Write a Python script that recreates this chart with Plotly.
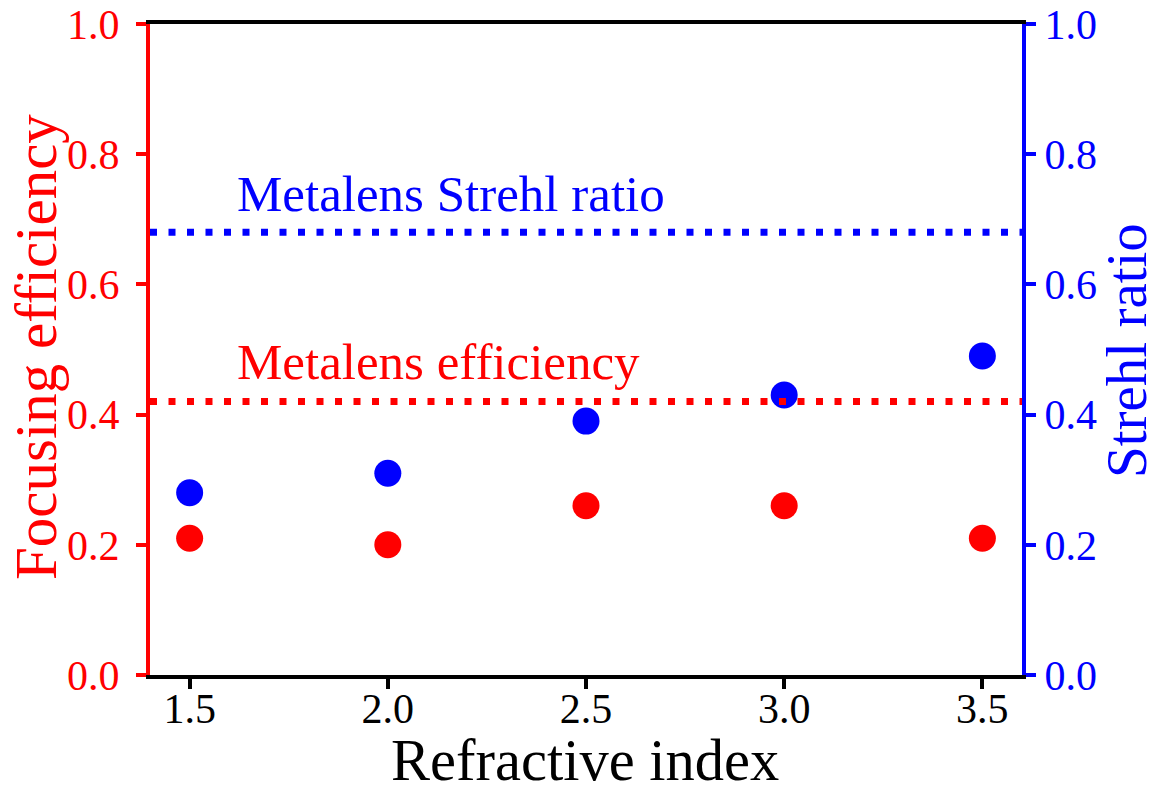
import plotly.graph_objects as go

refractive_index = [1.5, 2.0, 2.5, 3.0, 3.5]
focusing_efficiency = [0.21, 0.20, 0.26, 0.26, 0.21]
strehl_ratio = [0.28, 0.31, 0.39, 0.43, 0.49]
metalens_efficiency = 0.42
metalens_strehl = 0.68
x_ticks = [1.5, 2.0, 2.5, 3.0, 3.5]
y_ticks = [0.0, 0.2, 0.4, 0.6, 0.8, 1.0]

RED = "#ff0000"
BLUE = "#0000ff"
FONT = "Liberation Serif"

W, H = 1151, 786
L, R, T, B = 150, 129, 24, 111
pw, ph = W - L - R, H - T - B


def px_x(px):
    return (px - L) / pw


def px_y(py):
    return (H - B - py) / ph


fig = go.Figure()
fig.add_trace(go.Scatter(x=refractive_index, y=focusing_efficiency, mode="markers",
                         marker=dict(color=RED, size=27, line=dict(width=0)),
                         name="Focusing efficiency", yaxis="y"))
fig.add_trace(go.Scatter(x=refractive_index, y=strehl_ratio, mode="markers",
                         marker=dict(color=BLUE, size=27, line=dict(width=0)),
                         name="Strehl ratio", yaxis="y2"))

fig.add_shape(type="line", xref="paper", x0=0, x1=1, yref="y",
              y0=metalens_efficiency, y1=metalens_efficiency,
              line=dict(color=RED, width=7, dash="7px,11.5px"))
fig.add_shape(type="line", xref="paper", x0=0, x1=1, yref="y2",
              y0=metalens_strehl, y1=metalens_strehl,
              line=dict(color=BLUE, width=7, dash="7px,11.5px"))

fig.add_annotation(x=1.615, y=0.739, xref="x", yref="y", text="Metalens Strehl ratio",
                   showarrow=False, xanchor="left", yanchor="middle",
                   font=dict(family=FONT, size=51, color=BLUE))
fig.add_annotation(x=1.615, y=0.481, xref="x", yref="y", text="Metalens efficiency",
                   showarrow=False, xanchor="left", yanchor="middle",
                   font=dict(family=FONT, size=51, color=RED))

# axis titles
fig.add_annotation(x=px_x(36), y=px_y(347), xref="paper", yref="paper",
                   text="Focusing efficiency",
                   showarrow=False, textangle=-90, xanchor="center", yanchor="middle",
                   font=dict(family=FONT, size=59, color=RED))
fig.add_annotation(x=px_x(1127), y=px_y(351), xref="paper", yref="paper",
                   text="Strehl ratio",
                   showarrow=False, textangle=-90, xanchor="center", yanchor="middle",
                   font=dict(family=FONT, size=57, color=BLUE))
fig.add_annotation(x=px_x(585), y=px_y(760), xref="paper", yref="paper",
                   text="Refractive index",
                   showarrow=False, xanchor="center", yanchor="middle",
                   font=dict(family=FONT, size=58.5, color="black"))

fig.update_layout(
    width=W, height=H,
    margin=dict(l=L, r=R, t=T, b=B, autoexpand=False),
    plot_bgcolor="white", paper_bgcolor="white",
    showlegend=False,
    font=dict(family=FONT),
    xaxis=dict(range=[1.4, 3.6], tickvals=x_ticks, ticktext=[f"{v:.1f}" for v in x_ticks],
               showgrid=False, zeroline=False, showline=True, linecolor="black", linewidth=4,
               mirror=True, ticks="outside", ticklen=10, tickwidth=4, tickcolor="black",
               ticklabelstandoff=-16,
               tickfont=dict(family=FONT, size=42, color="black")),
    yaxis=dict(range=[0, 1], tickvals=y_ticks, ticktext=[f"{v:.1f}" for v in y_ticks],
               showgrid=False, zeroline=False, showline=True, linecolor=RED, linewidth=4,
               ticks="outside", ticklen=10, tickwidth=4, tickcolor=RED,
               ticklabelstandoff=8,
               tickfont=dict(family=FONT, size=42, color=RED)),
    yaxis2=dict(range=[0, 1], tickvals=y_ticks, ticktext=[f"{v:.1f}" for v in y_ticks],
                overlaying="y", side="right",
                showgrid=False, zeroline=False, showline=True, linecolor=BLUE, linewidth=4,
                ticks="outside", ticklen=10, tickwidth=4, tickcolor=BLUE,
                tickfont=dict(family=FONT, size=42, color=BLUE)),
)

fig.write_html("out.html")
